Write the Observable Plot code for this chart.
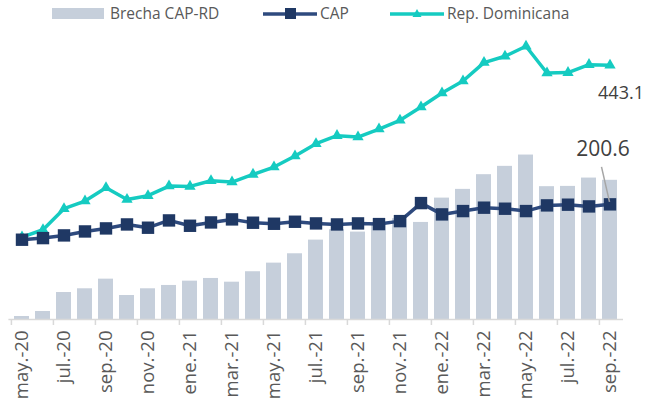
<!DOCTYPE html>
<html><head><meta charset="utf-8">
<script src="https://cdn.jsdelivr.net/npm/d3@7"></script>
<script src="https://cdn.jsdelivr.net/npm/@observablehq/plot@0.6"></script>
<style>
body{margin:0;background:#fff;font-family:"Open Sans",Lato,sans-serif;}
#legend{position:relative;height:28px;width:647px;color:#595959;font-size:15.5px;}
#legend .it{position:absolute;top:3px;line-height:20px;white-space:nowrap;}
#legend .sw{position:absolute;}
</style></head><body>
<div id="legend"></div>
<div id="chart"></div>
<script>
const months = ["may.-20","jun.-20","jul.-20","ago.-20","sep.-20","oct.-20","nov.-20","dic.-20",
 "ene.-21","feb.-21","mar.-21","abr.-21","may.-21","jun.-21","jul.-21","ago.-21","sep.-21","oct.-21","nov.-21","dic.-21",
 "ene.-22","feb.-22","mar.-22","abr.-22","may.-22","jun.-22","jul.-22","ago.-22","sep.-22"];
const brecha = [5.2,13.9,47,53.5,70.3,41.8,53.5,59.3,66.8,71.5,65,83.2,98.2,114.5,138.3,156.4,152.3,166.8,175.6,169.1,211.5,226.7,252.3,266.8,286.5,231.4,231.9,246.4,242.5];
const cap = [139,141.8,146.5,153.4,158.7,165.6,159.9,172.6,163.3,169.1,174.4,168.6,166.8,170.3,167.4,165.6,167.4,166.2,171.4,202.8,183.1,188.9,194.8,193.0,188.9,198.8,200.0,197.0,200.6];
const rd = [143.5,156.4,193,206.3,229.6,209.2,215.7,232.5,231.9,241.8,239.5,252.8,265.6,284.8,306.3,320.3,317.9,331.8,347,370.2,394.6,415.5,447.6,458.6,476,429.5,430.1,444,443.1];
const seriesNames = ["Brecha CAP-RD","CAP","Rep. Dominicana"];

const C_BAR="#C6CFDB", C_CAP="#1F3864", C_CAPLINE="#2E4A7E", C_RD="#15CBC1";

// legend
const lg = document.getElementById("legend");
lg.innerHTML = `
<div class="sw" style="left:52px;top:8px;width:52px;height:11px;background:${C_BAR}"></div>
<div class="it" style="left:110px">${seriesNames[0]}</div>
<svg class="sw" style="left:263px;top:4px" width="54" height="20"><line x1="0" y1="10" x2="54" y2="10" stroke="${C_CAPLINE}" stroke-width="3.5"/><rect x="22" y="4" width="11" height="11" fill="${C_CAP}"/></svg>
<div class="it" style="left:320px">${seriesNames[1]}</div>
<svg class="sw" style="left:390px;top:4px" width="54" height="20"><line x1="0" y1="10" x2="54" y2="10" stroke="${C_RD}" stroke-width="3.5"/><path d="M27,5 L31.5,13 L22.5,13Z" fill="${C_RD}"/></svg>
<div class="it" style="left:447px">${seriesNames[2]}</div>`;

const W=647, H=377, mL=8.4, mR=24;
const step=(W-mL-mR)/months.length;
const labelMonths = months.filter((d,i)=>i%2===0);
const data = months.map((m,i)=>({m, brecha:brecha[i], cap:cap[i], rd:rd[i]}));
const last = data[data.length-1];

function leader(index, scales) {
  const x = scales.x(last.m) + (scales.x.bandwidth ? scales.x.bandwidth()/2 : 0);
  const y = scales.y(last.cap);
  const g = document.createElementNS("http://www.w3.org/2000/svg","line");
  g.setAttribute("x1", x-8); g.setAttribute("y1", y-37);
  g.setAttribute("x2", x); g.setAttribute("y2", y-2);
  g.setAttribute("stroke","#A6A6A6"); g.setAttribute("stroke-width","1.5");
  return g;
}

const chart = Plot.plot({
  width:W, height:H, marginLeft:mL, marginRight:mR, marginTop:4, marginBottom:86,
  x:{type:"band", domain:months, paddingInner:0.3, paddingOuter:0.15, axis:null},
  y:{domain:[0,500], axis:null},
  style:{fontFamily:"'Open Sans', Lato, sans-serif", background:"#fff"},
  marks:[
    Plot.barY(data,{x:"m", y:"brecha", fill:C_BAR}),
    Plot.ruleY([0],{stroke:"#D9D9D9", strokeWidth:1.5}),
    Plot.axisX({ticks:labelMonths, tickSize:6, fill:"none", stroke:"#D9D9D9", strokeWidth:1.5, dx:-step/2, tickFormat:()=>"", label:null}),
    Plot.axisX({ticks:labelMonths, tickSize:0, tickPadding:11, tickRotate:-90, fontSize:18.5, fill:"#595959", label:null}),
    Plot.line(data,{x:"m", y:"rd", stroke:C_RD, strokeWidth:3.5}),
    Plot.dot(data,{x:"m", y:"rd", symbol:"triangle", r:4.2, fill:C_RD}),
    Plot.line(data,{x:"m", y:"cap", stroke:C_CAPLINE, strokeWidth:3.5}),
    Plot.dot(data,{x:"m", y:"cap", symbol:"square", r:7, fill:C_CAP}),
    leader,
    Plot.text([last],{x:"m", y:"rd", text:d=>d.rd.toFixed(1), dx:11, dy:28, fontSize:18, fill:"#404040"}),
    Plot.text([last],{x:"m", y:"cap", text:d=>d.cap.toFixed(1), dx:-7, dy:-55, fontSize:21, fill:"#404040"})
  ]
});
document.getElementById("chart").appendChild(chart);
</script>
</body></html>
